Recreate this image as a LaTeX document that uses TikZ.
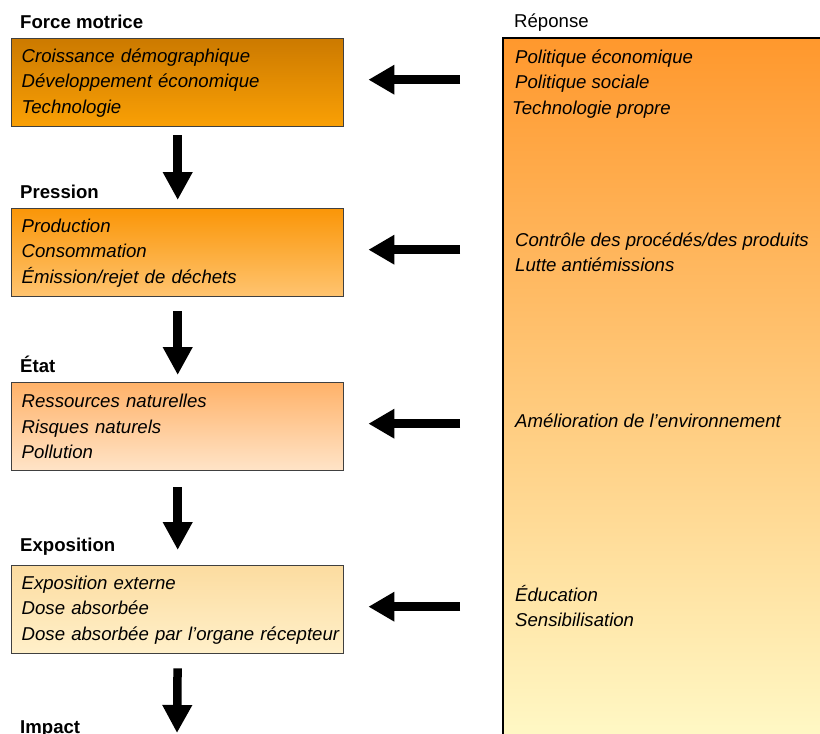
\documentclass[tikz,border=0pt]{standalone}
\usepackage{fontspec}
\setmainfont{Liberation Sans}
\usetikzlibrary{positioning,arrows.meta,calc}

\definecolor{fmTop}{RGB}{204,122,0}
\definecolor{fmBot}{RGB}{250,160,5}
\definecolor{prTop}{RGB}{250,150,8}
\definecolor{prBot}{RGB}{255,196,112}
\definecolor{etTop}{RGB}{255,178,105}
\definecolor{etBot}{RGB}{255,228,200}
\definecolor{exTop}{RGB}{252,220,160}
\definecolor{exBot}{RGB}{255,240,202}
\definecolor{repTop}{RGB}{255,152,45}
\definecolor{repBot}{RGB}{255,250,200}

\begin{document}
\begin{tikzpicture}[
x=1pt, y=-1pt,
stage/.style={
  font=\fontsize{18.6}{25.5}\selectfont\bfseries,
  anchor=west,
  inner sep=0pt,
  text height=13.3pt,
  text depth=0pt
  },
stagebox/.style={
  draw=black!75,
  line width=1.4pt,
  anchor=north west,
  minimum width=332pt,
  minimum height=88pt,
  text width=312pt,
  inner xsep=10pt,
  align=left,
  font=\fontsize{18.6}{25.5}\selectfont\itshape
  },
answer/.style={
  anchor=west,
  inner sep=0pt,
  align=left,
  font=\fontsize{18.6}{25.5}\selectfont\itshape
  },
down/.style={
  -{Triangle[width=28pt,length=28pt]},
  line width=8.5pt
  },
back/.style={
  -{Triangle[width=28pt,length=26pt]},
  line width=9pt,
  shorten <=43pt,
  shorten >=24pt,
  transform canvas={yshift=3pt}
  }
]
\useasboundingbox (0,0) rectangle (820,734);
\clip (0,0) rectangle (820,734);

% response column
\node[anchor=north west, inner sep=0pt, minimum width=330pt, minimum height=712pt,
  top color=repTop, bottom color=repBot] (panel) at (503,38) {};
\draw[line width=1.8pt] (panel.south west) -- (panel.north west) -- (panel.north east);
\node[stage, font=\fontsize{18.6}{25.5}\selectfont] (repLabel) at (514,21) {Réponse};

\node[answer] (rFm) at (515,84)
  {Politique économique\\Politique sociale\\\hspace*{-3pt}Technologie propre};
\node[answer] (rPr) at (515,252)
  {Contrôle des procédés/des produits\\Lutte antiémissions};
\node[answer] (rEt) at (515,421)
  {Amélioration de l’environnement};
\node[answer] (rEx) at (515,606)
  {Éducation\\Sensibilisation};

% chain of stages
\node[stage] (fmLabel) at (20,22) {Force motrice};
\node[stagebox, top color=fmTop, bottom color=fmBot] (fm) at (11,38)
  {Croissance démographique\\Développement économique\\Technologie};

\node[stage] (prLabel) at (20,192) {Pression};
\node[stagebox, top color=prTop, bottom color=prBot] (pr) at (11,208)
  {Production\\Consommation\\Émission/rejet de déchets};

\node[stage] (etLabel) at (20,366) {État};
\node[stagebox, top color=etTop, bottom color=etBot] (et) at (11,382)
  {Ressources naturelles\\Risques naturels\\Pollution};

\node[stage] (exLabel) at (20,545) {Exposition};
\node[stagebox, top color=exTop, bottom color=exBot] (ex) at (11,565)
  {Exposition externe\\Dose absorbée\\\mbox{Dose absorbée par l’organe récepteur}};

\node[stage] (imLabel) at (20,727) {Impact};
\coordinate (imEnd) at (177,733);

\draw[down, shorten <=8pt, shorten >=8pt] (fm) -- (pr);
\draw[down, shorten <=14pt, shorten >=7pt] (pr) -- (et);
\draw[down, shorten <=16pt, shorten >=15pt] (et) -- (ex);
\draw[down, shorten <=14pt] (ex.south) -- (imEnd);

\foreach \st in {fm,pr,et,ex}
  \draw[back] (panel.west |- \st.east) -- (\st.east);
\end{tikzpicture}
\end{document}
